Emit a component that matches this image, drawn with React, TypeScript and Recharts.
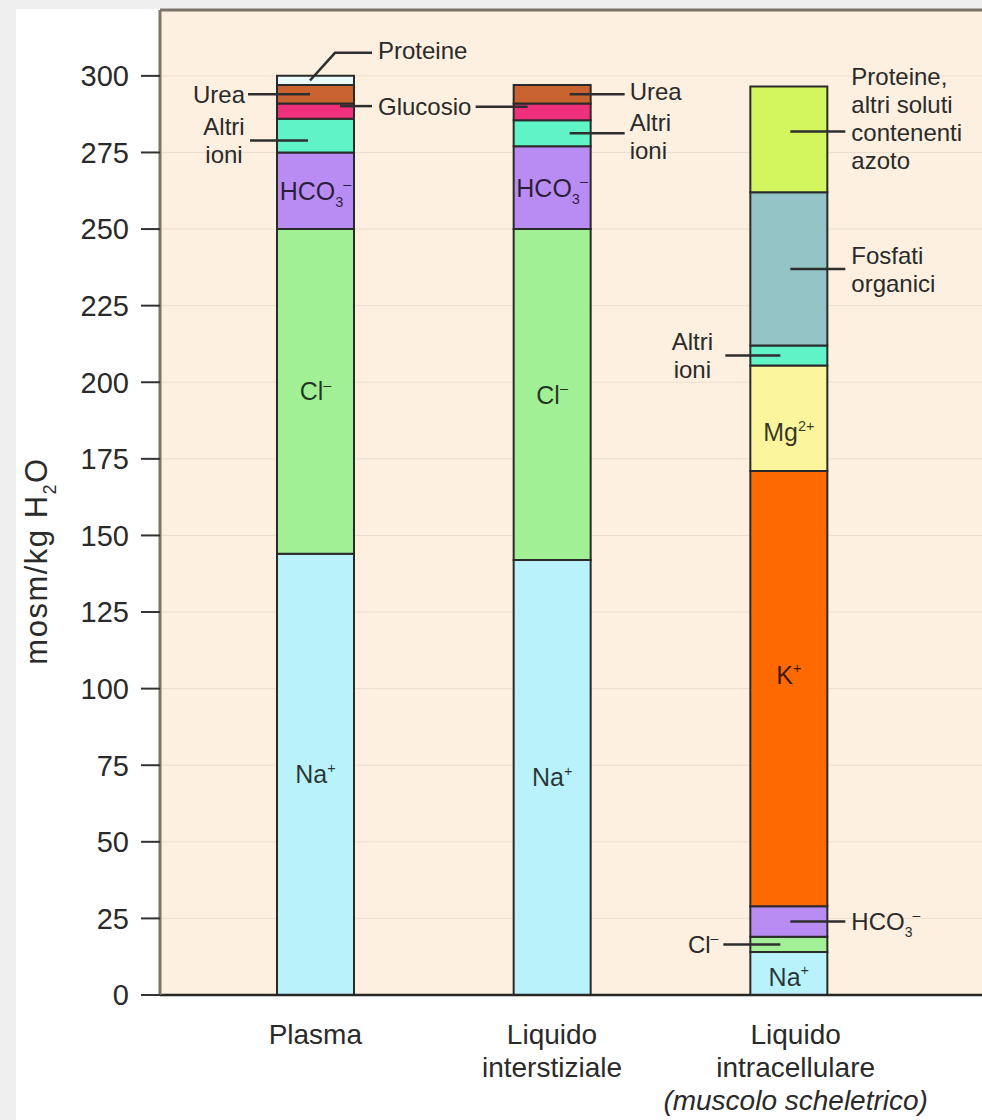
import React from "react";
import { BarChart, Bar, XAxis, YAxis, CartesianGrid, LabelList, ReferenceLine } from "recharts";

// Composition of body fluids (mosm/kg H2O)
const categories = ["Plasma", "Liquido interstiziale", "Liquido intracellulare"];
const na = [144, 142, 14];
const cl = [106, 108, 5];
const hco3 = [25, 27, 10];
const potassium = [0, 0, 142];
const magnesium = [0, 0, 34.5];
const altriIoni = [11, 8.5, 6.5];
const fosfati = [0, 0, 50];
const glucosio = [5, 5.5, 0];
const urea = [6, 6, 0];
const proteine = [3, 0, 0];
const proteineAzoto = [0, 0, 34.5];

const yTicks = [0, 25, 50, 75, 100, 125, 150, 175, 200, 225, 250, 275, 300];
const xLabelLines = [
  ["Plasma"],
  ["Liquido", "interstiziale"],
  ["Liquido", "intracellulare", "(muscolo scheletrico)"],
];

const FONT = "'Liberation Sans', Arial, Helvetica, sans-serif";
const TEXT = "#2a2a2a";
const LINE = "#2e2e2e";

const series = [
  { key: "na", values: na, fill: "#b9f2fa" },
  { key: "cl", values: cl, fill: "#a1f096" },
  { key: "hco3", values: hco3, fill: "#b98cf3" },
  { key: "k", values: potassium, fill: "#ff6a00" },
  { key: "mg", values: magnesium, fill: "#fbf59e" },
  { key: "altri", values: altriIoni, fill: "#60f3c6" },
  { key: "fosfati", values: fosfati, fill: "#95c4c7" },
  { key: "glucosio", values: glucosio, fill: "#ef307c" },
  { key: "urea", values: urea, fill: "#c8622f" },
  { key: "proteine", values: proteine, fill: "#e9fafa" },
  { key: "proteineAz", values: proteineAzoto, fill: "#d3f55d" },
];

const data = categories.map((name, i) => {
  const row: any = { name };
  series.forEach((s) => (row[s.key] = s.values[i]));
  return row;
});

// callouts: inside labels or leader lines (offsets relative to bar left edge)
type Callout = {
  inside?: string;
  lines?: string[];
  x1?: number;
  x2?: number;
  tx?: number;
  anchor?: "start" | "end" | "middle";
  dy?: number;
  tdy?: number;
  elbow?: number;
};

const callouts: Record<string, (Callout | null)[]> = {
  na: [{ inside: "Na^+" }, { inside: "Na^+" }, { inside: "Na^+", dy: 3 }],
  cl: [
    { inside: "Cl^-" },
    { inside: "Cl^-" },
    { lines: ["Cl^-"], x1: 30, x2: -27, tx: -32, anchor: "end" },
  ],
  hco3: [
    { inside: "HCO_3^-" },
    { inside: "HCO_3^-" },
    { lines: ["HCO_3^-"], x1: 40, x2: 95, tx: 101, anchor: "start" },
  ],
  k: [null, null, { inside: "K^+", dy: -14 }],
  mg: [null, null, { inside: "Mg^2+", dy: 14 }],
  altri: [
    { lines: ["Altri", "ioni"], x1: 31, x2: -27, tx: -53, anchor: "middle", dy: 5 },
    { lines: ["Altri", "ioni"], x1: 56, x2: 111, tx: 116, anchor: "start", tdy: 3 },
    { lines: ["Altri", "ioni"], x1: 30, x2: -25, tx: -58, anchor: "middle" },
  ],
  fosfati: [null, null, { lines: ["Fosfati", "organici"], x1: 40, x2: 95, tx: 101, anchor: "start" }],
  glucosio: [
    { lines: ["Glucosio"], x1: 63, x2: 95, tx: 101, anchor: "start", dy: -5 },
    { lines: [], x1: 14, x2: -38, dy: -5 },
    null,
  ],
  urea: [
    { lines: ["Urea"], x1: 33, x2: -29, tx: -32, anchor: "end" },
    { lines: ["Urea"], x1: 56, x2: 111, tx: 116, anchor: "start", tdy: -3 },
    null,
  ],
  proteine: [{ lines: ["Proteine"], x1: 33, x2: 95, tx: 101, anchor: "start", elbow: -23 }, null, null],
  proteineAz: [
    null,
    null,
    {
      lines: ["Proteine,", "altri soluti", "contenenti", "azoto"],
      x1: 40,
      x2: 95,
      tx: 101,
      anchor: "start",
      dy: -8,
      tdy: -13,
    },
  ],
};

const chemParts = (s: string) => {
  const out: { t: string; mode: "n" | "sub" | "sup" }[] = [];
  const re = /_([0-9]+)|\^([0-9+\-]+)|([^_^]+)/g;
  let m: RegExpExecArray | null;
  while ((m = re.exec(s))) {
    if (m[1]) out.push({ t: m[1], mode: "sub" });
    else if (m[2]) out.push({ t: m[2].replace("-", "\u2013"), mode: "sup" });
    else out.push({ t: m[3], mode: "n" });
  }
  return out;
};

const chemSpans = (s: string, fs: number) => {
  let shift = 0;
  return chemParts(s).map((p, i) => {
    const target = p.mode === "sub" ? fs * 0.28 : p.mode === "sup" ? -fs * 0.42 : 0;
    const dy = target - shift;
    shift = target;
    return (
      <tspan key={i} dy={dy} fontSize={p.mode === "n" ? fs : fs * 0.58}>
        {p.t}
      </tspan>
    );
  });
};

// zero-height segments get no label entry, so map back to the category index
const categoryIndex = (values: number[], rendered: number) => {
  const present = values.map((v, i) => (v ? i : -1)).filter((i) => i >= 0);
  return present[rendered] ?? rendered;
};

const makeLabel = (key: string, values: number[]) => (props: any) => {
  const idx = categoryIndex(values, props.index);
  const spec = callouts[key] && callouts[key][idx];
  if (!spec || !props.value) return null;
  const vb = props.viewBox || props;
  const bx = vb.x;
  const top = Math.min(vb.y, vb.y + vb.height);
  const h = Math.abs(vb.height);
  const cy = top + h / 2 + (spec.dy || 0);

  if (spec.inside) {
    const fs = 25;
    return (
      <text
        x={bx + vb.width / 2}
        y={cy + fs * 0.36}
        textAnchor="middle"
        fontFamily={FONT}
        fontSize={fs}
        fill="rgba(0,0,0,0.78)"
      >
        {chemSpans(spec.inside, fs)}
      </text>
    );
  }

  const fs = 24;
  const lh = 28;
  const lines = spec.lines || [];
  let lineEl;
  let textY = cy + (spec.tdy || 0);
  if (spec.elbow !== undefined) {
    const ey = top + spec.elbow;
    lineEl = (
      <polyline
        points={`${bx + spec.x1!},${cy} ${bx + 58},${ey} ${bx + spec.x2!},${ey}`}
        fill="none"
        stroke={LINE}
        strokeWidth={2.5}
      />
    );
    textY = ey - 3;
  } else {
    lineEl = <line x1={bx + spec.x1!} x2={bx + spec.x2!} y1={cy} y2={cy} stroke={LINE} strokeWidth={2.5} />;
  }
  return (
    <g>
      {lineEl}
      {lines.map((ln, i) => (
        <text
          key={i}
          x={bx + (spec.tx || 0)}
          y={textY + (i - (lines.length - 1) / 2) * lh + fs * 0.36}
          textAnchor={spec.anchor}
          fontFamily={FONT}
          fontSize={fs}
          fill={TEXT}
        >
          {chemSpans(ln, fs)}
        </text>
      ))}
    </g>
  );
};

const XTick = (props: any) => {
  const { x, y, payload } = props;
  const idx = categories.indexOf(payload.value);
  const lines = xLabelLines[idx] || [];
  return (
    <g>
      {lines.map((l, i) => (
        <text
          key={i}
          x={x + (idx === 2 ? 7 : 0)}
          y={y + 41 + i * 33}
          textAnchor="middle"
          fontFamily={FONT}
          fontSize={28}
          fontStyle={i === 2 ? "italic" : "normal"}
          fill={TEXT}
        >
          {l}
        </text>
      ))}
    </g>
  );
};

const YLabel = () => (
  <text
    x={47}
    y={561}
    transform="rotate(-90, 47, 561)"
    textAnchor="middle"
    fontFamily={FONT}
    fontSize={31}
    letterSpacing={1.5}
    fill={TEXT}
  >
    {chemSpans("mosm/kg H_2O", 31)}
  </text>
);

export default function App() {
  return (
    <div style={{ position: "absolute", left: 0, top: 0, width: 982, height: 1120, background: "#ffffff" }}>
      <div style={{ position: "absolute", left: 0, top: 0, width: 16, height: 1120, background: "#efefef" }} />
      <div style={{ position: "absolute", left: 0, top: 0, width: 982, height: 9, background: "#efefef" }} />
      <div style={{ position: "absolute", left: 0, top: 0 }}>
        <BarChart width={982} height={1120} data={data} margin={{ top: 10, right: 0, left: 0, bottom: 0 }}>
          <CartesianGrid vertical={false} fill="#fdf0e0" stroke="#ecdfce" strokeWidth={1} />
          <XAxis
            dataKey="name"
            height={125}
            padding={{ left: 37, right: 75 }}
            axisLine={{ stroke: "#262626", strokeWidth: 2.5 }}
            tickLine={false}
            tick={<XTick />}
            interval={0}
          />
          <YAxis
            width={160}
            domain={[0, 321.5]}
            ticks={yTicks}
            interval={0}
            axisLine={{ stroke: "#7b7469", strokeWidth: 3 }}
            tickLine={{ stroke: "#333333", strokeWidth: 2 }}
            tickSize={19}
            tickMargin={12}
            tick={{ fontSize: 29, fill: TEXT, fontFamily: FONT }}
            label={<YLabel />}
          />
          <ReferenceLine y={321.5} stroke="#7b7469" strokeWidth={3} />
          {series.map((s) => (
            <Bar
              key={s.key}
              dataKey={s.key}
              stackId="a"
              barSize={77}
              fill={s.fill}
              stroke="#2a2a2a"
              strokeWidth={2}
              isAnimationActive={false}
            >
              <LabelList dataKey={s.key} content={makeLabel(s.key, s.values)} />
            </Bar>
          ))}
        </BarChart>
      </div>
    </div>
  );
}
